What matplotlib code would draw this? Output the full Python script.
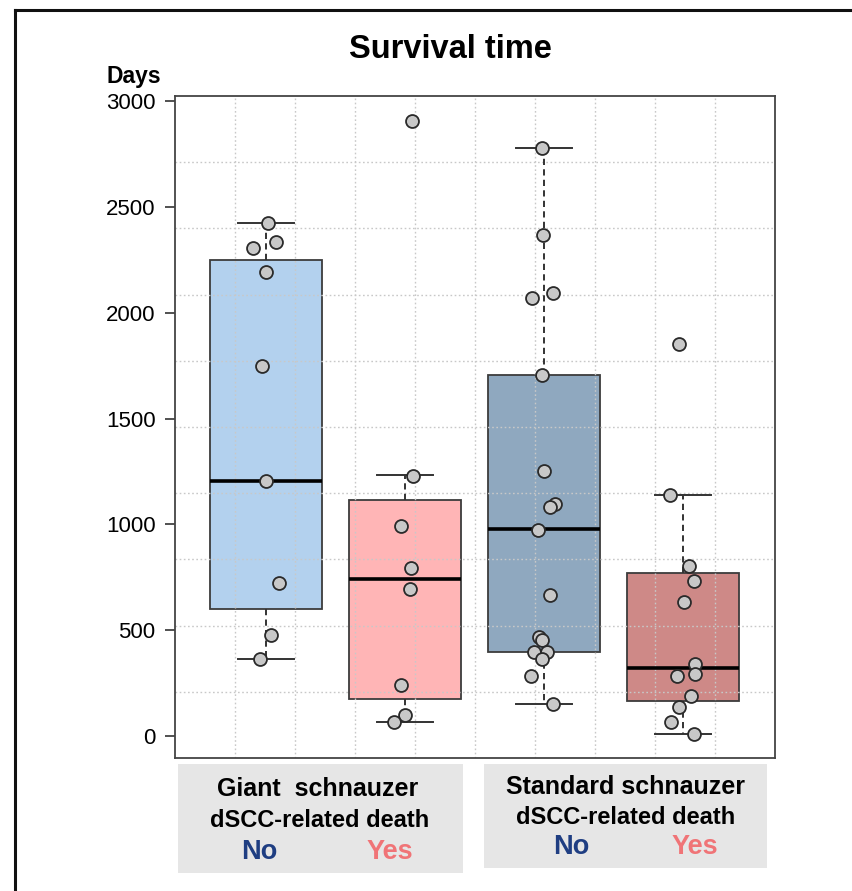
import matplotlib
matplotlib.use("Agg")
import matplotlib.pyplot as plt
from matplotlib.patches import Rectangle
from matplotlib.lines import Line2D
import numpy as np

plt.rcParams['font.family'] = ['Liberation Sans', 'DejaVu Sans']

# ---------------- data ----------------
groups = ["Giant No", "Giant Yes", "Standard No", "Standard Yes"]
# box statistics
q1 = [599, 175, 396, 165]
med = [1203, 741, 976, 321]
q3 = [2250, 1113, 1708, 769]
whislo = [363, 66, 151, 9]
whishi = [2425, 1231, 2778, 1137]

# individual observations (days)
giant_no = [2426, 2335, 2308, 2193, 1750, 1204, 723, 478, 365]
giant_yes = [2906, 1230, 991, 792, 693, 243, 100, 67]
standard_no = [2777, 2369, 2091, 2069, 1708, 1250, 1098, 1082, 975, 665,
               466, 453, 395, 395, 362, 283, 151]
standard_yes = [1854, 1137, 802, 730, 634, 340, 292, 283, 190, 135, 65, 8]

# horizontal jitter of the points (as drawn)
jit_giant_no = [0.012, 0.07, -0.096, 0.0, -0.029, 0.0, 0.091, 0.034, -0.043]
jit_giant_yes = [0.048, 0.055, -0.029, 0.041, 0.034, -0.029, 0.0, -0.079]
jit_standard_no = [-0.014, -0.007, 0.063, -0.086, -0.014, 0.002, 0.079, 0.043,
                   -0.045, 0.043, -0.036, -0.014, -0.07, 0.019, -0.014, -0.094, 0.065]
jit_standard_yes = [-0.029, -0.091, 0.041, 0.081, 0.009, 0.088, 0.088, -0.045,
                    0.058, -0.029, -0.084, 0.081]

yticks = [0, 500, 1000, 1500, 2000, 2500, 3000]
box_colors = ["#B3D1EE", "#FFB5B6", "#8FA8BF", "#CE8987"]

# ---------------- figure ----------------
W, H = 852, 891
fig = plt.figure(figsize=(W / 100, H / 100), dpi=100)

def fx(px):
    return px / W

def fy(py):
    return 1 - py / H

ax = fig.add_axes([fx(175), fy(758), fx(775) - fx(175), fy(96) - fy(758)])

positions = [1, 2, 3, 4]
stats = []
for i in range(4):
    stats.append(dict(q1=q1[i], med=med[i], q3=q3[i],
                      whislo=whislo[i], whishi=whishi[i], fliers=[]))

bp = ax.bxp(stats, positions=positions, widths=0.8, capwidths=0.4,
            patch_artist=True, showfliers=False,
            boxprops=dict(edgecolor="#3c3c3c", linewidth=1.3),
            whiskerprops=dict(color="#333333", linewidth=1.4, linestyle=(0, (3.2, 2.2))),
            capprops=dict(color="#333333", linewidth=1.4),
            medianprops=dict(color="black", linewidth=2.6))
for patch, c in zip(bp["boxes"], box_colors):
    patch.set_facecolor(c)
    patch.set_zorder(2)

ax.set_xlim(0.345, 4.662)
ax.set_ylim(-104, 3024)

# dotted grid: 10 equal divisions of each axis, drawn over the boxes
x0, x1 = ax.get_xlim()
y0, y1 = ax.get_ylim()
for k in range(1, 10):
    ax.axvline(x0 + (x1 - x0) * k / 10, color="#c8c8c8", linewidth=1.0,
               linestyle=(0, (1.2, 1.8)), zorder=2.5)
    ax.axhline(y0 + (y1 - y0) * k / 10, color="#c8c8c8", linewidth=1.0,
               linestyle=(0, (1.2, 1.8)), zorder=2.5)

# re-draw medians / whiskers above grid
for art in bp["medians"] + bp["whiskers"] + bp["caps"]:
    art.set_zorder(3)

series = [giant_no, giant_yes, standard_no, standard_yes]
jitters = [jit_giant_no, jit_giant_yes, jit_standard_no, jit_standard_yes]
for pos, vals, jit in zip(positions, series, jitters):
    xs = pos + np.array(jit)
    ax.plot(xs, vals, linestyle="none", marker="o", markersize=9.3,
            markerfacecolor="#C8C8C8", markeredgecolor="#2a2a2a",
            markeredgewidth=1.3, zorder=4)

ax.set_yticks(yticks)
ax.set_yticklabels([str(t) for t in yticks], fontsize=16)
ax.set_xticks([])
ax.tick_params(axis="y", length=7, width=1.2, pad=7, color="#333333")
for sp in ax.spines.values():
    sp.set_color("#444444")
    sp.set_linewidth(1.3)

# title and axis label
fig.text(fx(450), fy(58), "Survival time", ha="center", va="baseline",
         fontsize=23.5, fontweight="bold")
fig.text(fx(106), fy(83), "Days", ha="left", va="baseline",
         fontsize=16.5, fontweight="bold")

# bottom category panels
fig.add_artist(Rectangle((fx(178), fy(873)), fx(463) - fx(178), fy(764) - fy(873),
                         transform=fig.transFigure, facecolor="#E6E6E6",
                         edgecolor="none"))
fig.add_artist(Rectangle((fx(484), fy(868)), fx(767) - fx(484), fy(764) - fy(868),
                         transform=fig.transFigure, facecolor="#E6E6E6",
                         edgecolor="none"))

no_color = "#1F3E82"
yes_color = "#F07477"
fig.text(fx(318), fy(796), "Giant  schnauzer", ha="center", va="baseline",
         fontsize=18, fontweight="bold")
fig.text(fx(320), fy(827), "dSCC-related death", ha="center", va="baseline",
         fontsize=17, fontweight="bold")
fig.text(fx(259), fy(859), "No", ha="center", va="baseline",
         fontsize=19.5, fontweight="bold", color=no_color)
fig.text(fx(390), fy(859), "Yes", ha="center", va="baseline",
         fontsize=19.5, fontweight="bold", color=yes_color)

fig.text(fx(625), fy(794), "Standard schnauzer", ha="center", va="baseline",
         fontsize=18, fontweight="bold")
fig.text(fx(626), fy(824), "dSCC-related death", ha="center", va="baseline",
         fontsize=17, fontweight="bold")
fig.text(fx(571), fy(854), "No", ha="center", va="baseline",
         fontsize=19.5, fontweight="bold", color=no_color)
fig.text(fx(695), fy(854), "Yes", ha="center", va="baseline",
         fontsize=19.5, fontweight="bold", color=yes_color)

# outer frame (left and top edges)
fig.add_artist(Line2D([fx(15), fx(15)], [fy(10), 0], transform=fig.transFigure,
                      color="#111111", linewidth=2.2))
fig.add_artist(Line2D([fx(15), 1], [fy(10), fy(10)], transform=fig.transFigure,
                      color="#111111", linewidth=2.2))

fig.savefig("out.png", dpi=100)
